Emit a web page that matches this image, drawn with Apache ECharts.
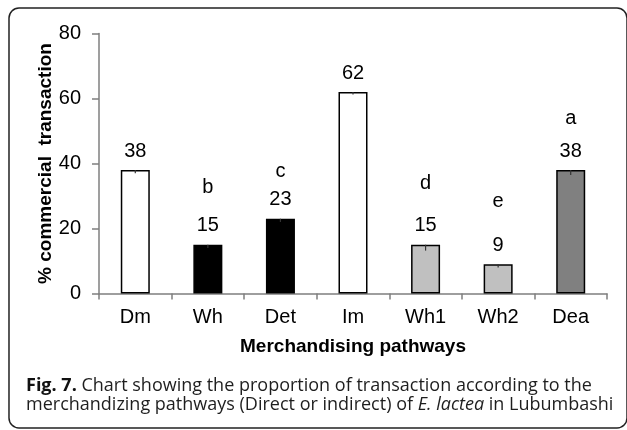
<!DOCTYPE html>
<html>
<head>
<meta charset="utf-8">
<script src="https://cdn.jsdelivr.net/npm/echarts@6/dist/echarts.min.js"></script>
<style>
  html, body { margin: 0; padding: 0; background: #fff; }
  #main { width: 627px; height: 430px; }
</style>
</head>
<body>
<div id="main"></div>
<script>
// merchandising pathways and the share of transactions (%)
var categories = ['Dm', 'Wh', 'Det', 'Im', 'Wh1', 'Wh2', 'Dea'];
var values = [38, 15, 23, 62, 15, 9, 38];
var errors = [1, 1, 1, 0.8, 1.8, 1, 1.5];
var barColors = ['#ffffff', '#000000', '#000000', '#ffffff', '#c0c0c0', '#c0c0c0', '#808080'];
// significance letters and the height (in %) where they sit
var letters = ['', 'b', 'c', '', 'd', 'e', 'a'];
var letterHeights = [null, 32.5, 37.4, null, 34, 28.2, 54];
var yTicks = [0, 20, 40, 60, 80];

var chartDom = document.getElementById('main');
var myChart = echarts.init(chartDom);
var option;

var axisGray = '#7f7f7f';
var font = 'Liberation Sans, Arial, sans-serif';

option = {
    animation: false,
    backgroundColor: '#fff',
    title: {
        left: 26,
        top: 376,
        padding: 0,
        text: '{b|Fig. 7.} Chart showing the proportion of transaction according to the\nmerchandizing pathways (Direct or indirect) of {i|E. lactea} in Lubumbashi',
        textStyle: {
            fontFamily: 'Open Sans',
            fontSize: 18,
            fontWeight: 'normal',
            color: '#1e1e1e',
            lineHeight: 19,
            rich: {
                b: { fontFamily: 'Open Sans', fontSize: 18, fontWeight: 'bold', color: '#111', lineHeight: 19 },
                i: { fontFamily: 'Open Sans', fontSize: 18, fontStyle: 'italic', color: '#1e1e1e', lineHeight: 19 }
            }
        }
    },
    graphic: [{
        type: 'rect',
        shape: { x: 9, y: 8, width: 618, height: 420, r: 10 },
        style: { fill: 'none', stroke: '#222', lineWidth: 1.5 },
        silent: true
    }],
    grid: {
        left: 99,
        right: 20,
        top: 33.5,
        bottom: 136.5
    },
    xAxis: {
        type: 'category',
        data: categories,
        boundaryGap: true,
        name: 'Merchandising pathways',
        nameLocation: 'middle',
        nameGap: 44,
        nameMoveOverlap: false,
        nameTextStyle: { fontFamily: font, fontSize: 19, fontWeight: 'bold', color: '#000' },
        axisLine: { lineStyle: { color: axisGray, width: 1.5 } },
        axisTick: { show: true, length: 6, alignWithLabel: false, lineStyle: { color: axisGray, width: 1.5 } },
        axisLabel: { fontFamily: font, fontSize: 20, color: '#000', margin: 14 },
        splitLine: { show: false }
    },
    yAxis: {
        type: 'value',
        min: yTicks[0],
        max: yTicks[yTicks.length - 1],
        interval: 20,
        name: '% commercial  transaction',
        nameLocation: 'middle',
        nameGap: 44,
        nameMoveOverlap: false,
        nameRotate: 90,
        nameTextStyle: { fontFamily: font, fontSize: 19, fontWeight: 'bold', color: '#000' },
        axisLine: { show: true, lineStyle: { color: axisGray, width: 1.5 } },
        axisTick: { show: true, inside: false, length: 7, lineStyle: { color: axisGray, width: 1.5 } },
        axisLabel: { fontFamily: font, fontSize: 20, color: '#000', margin: 18 },
        splitLine: { show: false }
    },
    series: [
        {
            name: 'share',
            type: 'bar',
            barWidth: 29,
            data: values.map(function (v, i) {
                return {
                    value: v,
                    itemStyle: { color: barColors[i], borderColor: '#000', borderWidth: 1.5 }
                };
            }),
            label: {
                show: true,
                position: 'top',
                distance: 9,
                fontFamily: font,
                fontSize: 20,
                color: '#000'
            },
            z: 2
        },
        {
            name: 'error',
            type: 'custom',
            data: values.map(function (v, i) { return [i, v - errors[i], v]; }),
            renderItem: function (params, api) {
                var lo = api.coord([api.value(0), api.value(1)]);
                var hi = api.coord([api.value(0), api.value(2)]);
                return {
                    type: 'line',
                    shape: { x1: lo[0], y1: lo[1], x2: hi[0], y2: hi[1] },
                    style: { stroke: '#333', lineWidth: 1.2 }
                };
            },
            z: 3
        },
        {
            name: 'letters',
            type: 'custom',
            data: letterHeights.map(function (h, i) { return [i, h === null ? 0 : h]; }),
            renderItem: function (params, api) {
                var i = params.dataIndex;
                if (!letters[i]) return null;
                var p = api.coord([api.value(0), api.value(1)]);
                return {
                    type: 'text',
                    x: p[0],
                    y: p[1],
                    style: {
                        text: letters[i],
                        fill: '#000',
                        font: '20px ' + font,
                        align: 'center',
                        verticalAlign: 'middle'
                    }
                };
            },
            z: 4
        }
    ]
};
option && myChart.setOption(option);
</script>
</body>
</html>
